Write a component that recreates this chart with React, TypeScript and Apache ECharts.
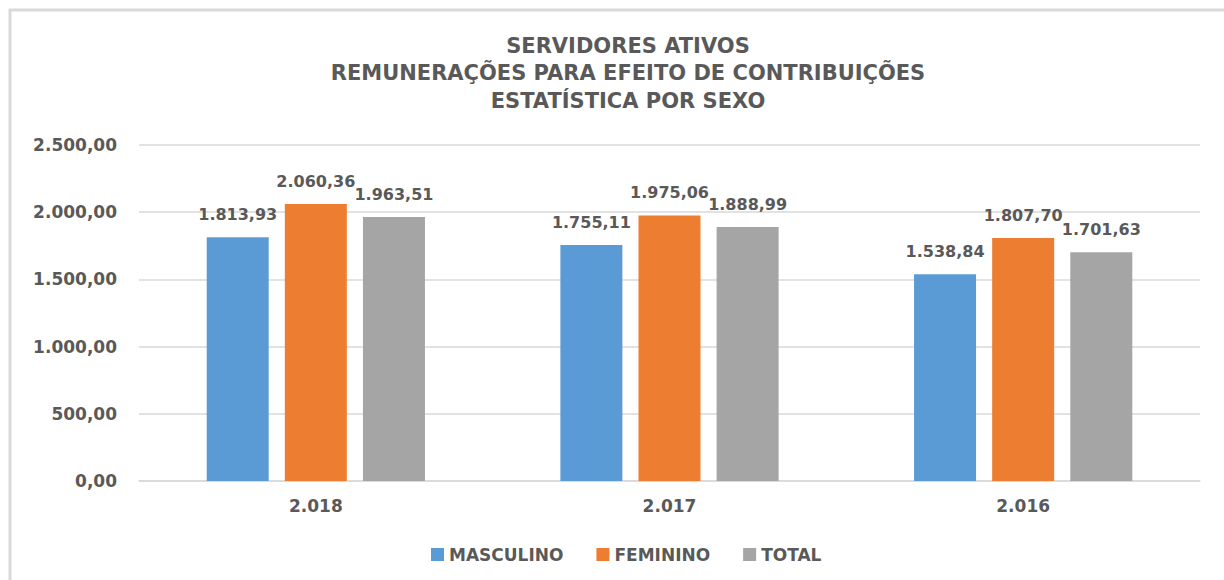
import React, { useEffect, useRef } from "react";
import * as echarts from "echarts";

const titleLines = [
  "SERVIDORES ATIVOS",
  "REMUNERAÇÕES PARA EFEITO DE CONTRIBUIÇÕES",
  "ESTATÍSTICA POR SEXO",
];
const categories = ["2.018", "2.017", "2.016"];
const seriesNames = ["MASCULINO", "FEMININO", "TOTAL"];
const masculino = [1813.93, 1755.11, 1538.84];
const feminino = [2060.36, 1975.06, 1807.7];
const total = [1963.51, 1888.99, 1701.63];
const colors = ["#5b9bd5", "#ed7d31", "#a5a5a5"];

function fmt(v: number): string {
  const fixed = Math.abs(v).toFixed(2);
  const [intPart, dec] = fixed.split(".");
  const withDots = intPart.replace(/\B(?=(\d{3})+(?!\d))/g, ".");
  return (v < 0 ? "-" : "") + withDots + "," + dec;
}

const FONT = "DejaVu Sans";
const TXT = "#595959";

export default function App() {
  const ref = useRef<HTMLDivElement>(null);
  useEffect(() => {
    if (!ref.current) return;
    const chart = echarts.init(ref.current, undefined, { renderer: "svg" });
    const values = [masculino, feminino, total];
    chart.setOption({
      animation: false,
      backgroundColor: "#ffffff",
      textStyle: { fontFamily: FONT },
      title: {
        text: titleLines.join("\n"),
        left: 623,
        top: 27,
        textAlign: "center",
        textStyle: {
          fontFamily: FONT,
          fontSize: 21,
          fontWeight: "bold",
          color: TXT,
          lineHeight: 27.5,
        },
      },
      graphic: [
        {
          type: "rect",
          shape: { x: 10, y: 10, width: 1240, height: 620 },
          style: { fill: "none", stroke: "#d9d9d9", lineWidth: 3 },
          silent: true,
        },
      ],
      legend: {
        left: 426,
        top: 541,
        itemWidth: 13,
        itemHeight: 13,
        itemGap: 33,
        icon: "rect",
        textStyle: { fontFamily: FONT, fontSize: 17, fontWeight: "bold", color: TXT },
        data: seriesNames,
      },
      grid: { left: 139, right: 24, top: 145, bottom: 99, containLabel: false },
      xAxis: {
        type: "category",
        data: categories,
        axisLine: { lineStyle: { color: "#d9d9d9", width: 1.5 } },
        axisTick: { show: false },
        axisLabel: {
          fontFamily: FONT,
          fontSize: 17,
          fontWeight: "bold",
          color: TXT,
          margin: 16,
        },
      },
      yAxis: {
        type: "value",
        min: 0,
        max: 2500,
        interval: 500,
        axisLine: { show: false },
        axisTick: { show: false },
        splitLine: { lineStyle: { color: "#d9d9d9", width: 1.5 } },
        axisLabel: {
          fontFamily: FONT,
          fontSize: 17,
          fontWeight: "bold",
          color: TXT,
          margin: 22,
          formatter: (v: number) => fmt(v),
        },
      },
      series: seriesNames.map((name, i) => ({
        name,
        type: "bar",
        data: values[i],
        barWidth: 62,
        barGap: "26%",
        itemStyle: { color: colors[i] },
        label: {
          show: true,
          position: "top",
          distance: 15,
          fontFamily: FONT,
          fontSize: 16,
          fontWeight: "bold",
          color: TXT,
          formatter: (p: any) => fmt(p.value),
        },
      })),
    });
    return () => chart.dispose();
  }, []);
  return (
    <div
      ref={ref}
      style={{ position: "fixed", left: 0, top: 0, width: 1224, height: 580 }}
    />
  );
}
